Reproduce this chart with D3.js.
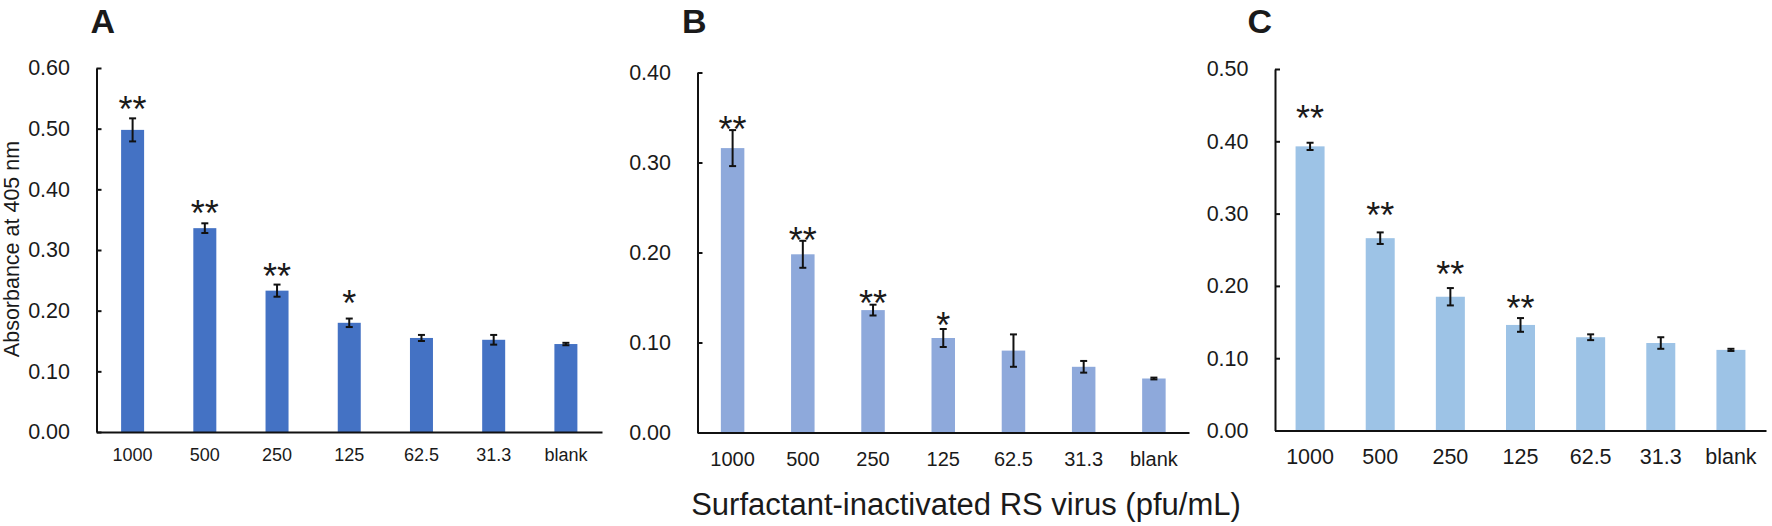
<!DOCTYPE html>
<html>
<head>
<meta charset="utf-8">
<script src="https://cdn.jsdelivr.net/npm/d3@7"></script>
<style>
  html, body { margin: 0; padding: 0; background: #fff; }
  svg { display: block; }
  text { font-family: "Liberation Sans", Arial, Helvetica, sans-serif; fill: #1a1a1a; }
</style>
</head>
<body>
<svg id="chart" width="1772" height="526"></svg>
<script>
// ---------- data ----------
const categories = ["1000", "500", "250", "125", "62.5", "31.3", "blank"];
const panelLetters = ["A", "B", "C"];

const meanA = [0.498, 0.336, 0.233, 0.180, 0.155, 0.152, 0.145];
const errA  = [0.019, 0.008, 0.010, 0.007, 0.005, 0.008, 0.002];
const sigA  = ["**", "**", "**", "*", "", "", ""];
const starA = [0.546, 0.374, 0.270, 0.225, null, null, null];

const meanB = [0.316, 0.198, 0.136, 0.105, 0.091, 0.073, 0.060];
const errB  = [0.020, 0.015, 0.006, 0.010, 0.018, 0.0065, 0.001];
const sigB  = ["**", "**", "**", "*", "", "", ""];
const starB = [0.346, 0.2225, 0.1526, 0.128, null, null, null];

const meanC = [0.393, 0.266, 0.185, 0.146, 0.129, 0.121, 0.1115];
const errC  = [0.005, 0.008, 0.012, 0.0095, 0.004, 0.008, 0.0015];
const sigC  = ["**", "**", "**", "**", "", "", ""];
const starC = [0.443, 0.3095, 0.2268, 0.181, null, null, null];

const yMaxes = [0.6, 0.4, 0.5];
const yTickValues = [
  [0, 0.1, 0.2, 0.3, 0.4, 0.5, 0.6],
  [0, 0.1, 0.2, 0.3, 0.4],
  [0, 0.1, 0.2, 0.3, 0.4, 0.5]
];
const yAxisTitle = "Absorbance at 405 nm";
const xAxisTitle = "Surfactant-inactivated RS virus (pfu/mL)";

// ---------- styling / layout ----------
const barColors = ["#4472C4", "#8EA9DB", "#9DC3E6"];
const layout = [
  { x0: 96.5,  x1: 602,  y0: 432,   yTop: 68,   barW: 23,   xFont: 18,   xLabelY: 455,   letterX: 90.5 },
  { x0: 697.5, x1: 1189, y0: 432.5, yTop: 72.5, barW: 23.5, xFont: 20,   xLabelY: 459,   letterX: 682 },
  { x0: 1275,  x1: 1766, y0: 430.5, yTop: 69,   barW: 29,   xFont: 21.5, xLabelY: 456.5, letterX: 1247.5 }
];

const means = [meanA, meanB, meanC];
const errs  = [errA, errB, errC];
const sigs  = [sigA, sigB, sigC];
const stars = [starA, starB, starC];

const svg = d3.select("#chart");
const fmt = d3.format(".2f");
const starFont = 36;

layout.forEach((L, p) => {
  const g = svg.append("g");
  const x = d3.scaleBand().domain(categories).range([L.x0, L.x1]).paddingInner(0).paddingOuter(0);
  const y = d3.scaleLinear().domain([0, yMaxes[p]]).range([L.y0, L.yTop]);
  const cx = c => x(c) + x.bandwidth() / 2;

  const rows = categories.map((c, i) => ({
    c, m: means[p][i], e: errs[p][i], s: sigs[p][i], sy: stars[p][i]
  }));

  // bars
  g.selectAll("rect.bar").data(rows).join("rect")
    .attr("class", "bar")
    .attr("x", d => cx(d.c) - L.barW / 2)
    .attr("width", L.barW)
    .attr("y", d => y(d.m))
    .attr("height", d => y(0) - y(d.m))
    .attr("fill", barColors[p]);

  // error bars
  const eb = g.selectAll("g.err").data(rows).join("g").attr("class", "err")
    .attr("stroke", "#111").attr("stroke-width", 2);
  eb.append("line")
    .attr("x1", d => cx(d.c)).attr("x2", d => cx(d.c))
    .attr("y1", d => y(d.m - d.e)).attr("y2", d => y(d.m + d.e));
  eb.append("line")
    .attr("x1", d => cx(d.c) - 3.5).attr("x2", d => cx(d.c) + 3.5)
    .attr("y1", d => y(d.m + d.e)).attr("y2", d => y(d.m + d.e));
  eb.append("line")
    .attr("x1", d => cx(d.c) - 3.5).attr("x2", d => cx(d.c) + 3.5)
    .attr("y1", d => y(d.m - d.e)).attr("y2", d => y(d.m - d.e));

  // significance stars
  g.selectAll("text.sig").data(rows.filter(d => d.s)).join("text")
    .attr("class", "sig")
    .attr("x", d => cx(d.c))
    .attr("y", d => y(d.sy) + starFont * 0.58)
    .attr("text-anchor", "middle")
    .attr("font-size", starFont)
    .text(d => d.s);

  // y axis
  const yAxis = d3.axisLeft(y).tickValues(yTickValues[p]).tickFormat(fmt)
    .tickSizeInner(-5).tickSizeOuter(0).tickPadding(26.5);
  const ya = g.append("g").attr("transform", `translate(${L.x0},0)`).call(yAxis);
  ya.select(".domain").attr("stroke", "#111").attr("stroke-width", 2);
  ya.selectAll(".tick line").attr("stroke", "#111").attr("stroke-width", 2);
  ya.selectAll(".tick text").attr("font-size", 21.5).attr("font-family", null).attr("fill", "#1a1a1a");

  // x axis
  const xAxis = d3.axisBottom(x).tickSize(0).tickSizeOuter(0).tickPadding(0);
  const xa = g.append("g").attr("transform", `translate(0,${L.y0})`).call(xAxis);
  xa.select(".domain").attr("stroke", "#111").attr("stroke-width", 2);
  xa.selectAll(".tick text")
    .attr("font-size", L.xFont).attr("font-family", null).attr("fill", "#1a1a1a")
    .attr("y", L.xLabelY - L.y0).attr("dy", "0.35em");

  // panel letter
  svg.append("text")
    .attr("x", L.letterX).attr("y", 33)
    .attr("font-size", 34).attr("font-weight", "bold")
    .attr("fill", "#000")
    .text(panelLetters[p]);
});

// axis titles
svg.append("text")
  .attr("transform", "translate(19,249) rotate(-90)")
  .attr("text-anchor", "middle")
  .attr("font-size", 21.5)
  .text(yAxisTitle);

svg.append("text")
  .attr("x", 966).attr("y", 515)
  .attr("text-anchor", "middle")
  .attr("font-size", 31)
  .text(xAxisTitle);
</script>
</body>
</html>
